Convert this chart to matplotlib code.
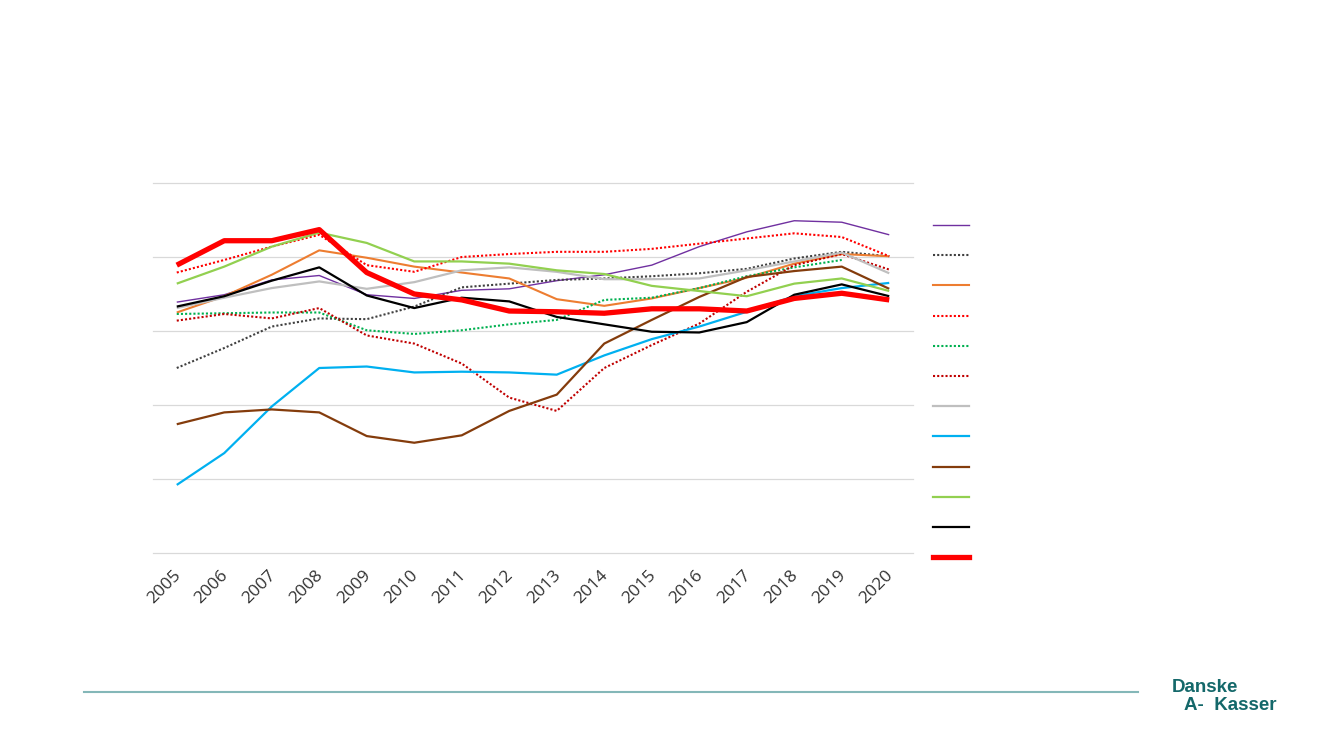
import matplotlib
matplotlib.use("Agg")
import matplotlib.pyplot as plt
import matplotlib.transforms as mtransforms
from matplotlib.lines import Line2D
import numpy as np

years = [str(y) for y in range(2005, 2021)]

s_purple = [3.39, 3.49, 3.69, 3.75, 3.49, 3.44, 3.55, 3.57, 3.68, 3.76, 3.89, 4.14, 4.34, 4.49, 4.47, 4.30]
s_gray_dot = [2.50, 2.77, 3.06, 3.17, 3.16, 3.33, 3.59, 3.64, 3.69, 3.71, 3.74, 3.78, 3.84, 3.98, 4.07, 4.01]
s_orange = [3.25, 3.47, 3.76, 4.09, 3.99, 3.87, 3.79, 3.71, 3.43, 3.34, 3.44, 3.58, 3.72, 3.91, 4.04, 4.01]
s_red_dot = [3.79, 3.96, 4.14, 4.30, 3.89, 3.80, 4.00, 4.04, 4.07, 4.07, 4.11, 4.18, 4.25, 4.32, 4.27, 4.01]
s_green_dot = [3.23, 3.24, 3.25, 3.25, 3.01, 2.96, 3.01, 3.09, 3.15, 3.42, 3.45, 3.58, 3.74, 3.86, 3.96, np.nan]
s_darkred_dot = [3.14, 3.23, 3.17, 3.31, 2.94, 2.83, 2.56, 2.10, 1.92, 2.50, 2.81, 3.10, 3.53, 3.89, 4.04, 3.83]
s_lightgray = [3.31, 3.45, 3.58, 3.67, 3.57, 3.66, 3.82, 3.86, 3.80, 3.70, 3.70, 3.71, 3.82, 3.94, 4.06, 3.78]
s_blue = [0.92, 1.35, 1.98, 2.50, 2.52, 2.44, 2.45, 2.44, 2.41, 2.67, 2.89, 3.06, 3.26, 3.47, 3.58, 3.65]
s_brown = [1.74, 1.90, 1.94, 1.90, 1.58, 1.49, 1.59, 1.92, 2.14, 2.83, 3.15, 3.46, 3.73, 3.81, 3.87, 3.57]
s_lightgreen = [3.64, 3.87, 4.14, 4.33, 4.19, 3.94, 3.94, 3.91, 3.82, 3.77, 3.61, 3.54, 3.47, 3.64, 3.71, 3.54]
s_black = [3.33, 3.47, 3.68, 3.86, 3.48, 3.31, 3.45, 3.40, 3.19, 3.09, 2.99, 2.98, 3.12, 3.49, 3.63, 3.47]
s_red_thick = [3.89, 4.22, 4.22, 4.37, 3.79, 3.50, 3.42, 3.27, 3.26, 3.24, 3.30, 3.30, 3.27, 3.44, 3.51, 3.42]

series = [s_purple, s_gray_dot, s_orange, s_red_dot, s_green_dot, s_darkred_dot,
          s_lightgray, s_blue, s_brown, s_lightgreen, s_black, s_red_thick]

DOT = (0, (1, 1))
styles = [
    dict(color="#7030A0", lw=1.0, ls="-"),
    dict(color="#404040", lw=1.5, ls=DOT),
    dict(color="#ED7D31", lw=1.5, ls="-"),
    dict(color="#FF0000", lw=1.5, ls=DOT),
    dict(color="#00B050", lw=1.5, ls=DOT),
    dict(color="#C00000", lw=1.5, ls=DOT),
    dict(color="#BFBFBF", lw=1.6, ls="-"),
    dict(color="#00B0F0", lw=1.6, ls="-"),
    dict(color="#843C0C", lw=1.6, ls="-"),
    dict(color="#92D050", lw=1.6, ls="-"),
    dict(color="#000000", lw=1.6, ls="-"),
    dict(color="#FF0000", lw=3.8, ls="-"),
]

W, H = 1333, 750
fig = plt.figure(figsize=(W / 100, H / 100), dpi=100)
ax = fig.add_axes([153 / W, 1 - 553 / H, (913 - 153) / W, (553 - 183) / H])

x = np.arange(len(years))
for vals, st in zip(series, styles):
    ax.plot(x, vals, color=st["color"], lw=st["lw"], linestyle=st["ls"],
            solid_joinstyle="round", solid_capstyle="butt")

ax.set_xlim(-0.5, len(years) - 0.5)
ax.set_ylim(0, 5)
ax.set_yticks(np.arange(0, 6, 1))
ax.yaxis.grid(True, color="#D9D9D9", lw=0.9)
for gl in ax.get_ygridlines():
    gl.set_clip_on(False)
ax.set_axisbelow(True)
ax.tick_params(axis="y", left=False, labelleft=False)
ax.tick_params(axis="x", length=0, pad=10)
ax.set_xticks(x)
ax.set_xticklabels(years, rotation=45, ha="right", va="top",
                   fontsize=12.5, color="#333333", family="Open Sans")
offset = mtransforms.ScaledTranslation(7 / 100, 0, fig.dpi_scale_trans)
for lbl in ax.get_xticklabels():
    lbl.set_transform(lbl.get_transform() + offset)
for sp in ax.spines.values():
    sp.set_visible(False)

# legend handles (labels are not shown in the reference)
leg_y0, leg_dy = 225, 30.2
for i, st in enumerate(styles):
    yy = 1 - (leg_y0 + i * leg_dy) / H
    fig.add_artist(Line2D([933 / W, 969 / W], [yy, yy], color=st["color"],
                          lw=st["lw"], linestyle=st["ls"],
                          transform=fig.transFigure))

# bottom rule and logo
fig.add_artist(Line2D([84 / W, 1138 / W], [1 - 692 / H, 1 - 692 / H],
                      color="#84B7B8", lw=1.5, transform=fig.transFigure))
fig.text(1172 / W, 1 - 692 / H, "Danske", fontsize=13.5, fontweight="bold",
         color="#14686A", family="Liberation Sans", ha="left", va="baseline")
fig.text(1184 / W, 1 - 710 / H, "A-  Kasser", fontsize=13.5, fontweight="bold",
         color="#14686A", family="Liberation Sans", ha="left", va="baseline")

fig.savefig("out.png", dpi=100, facecolor="white")
